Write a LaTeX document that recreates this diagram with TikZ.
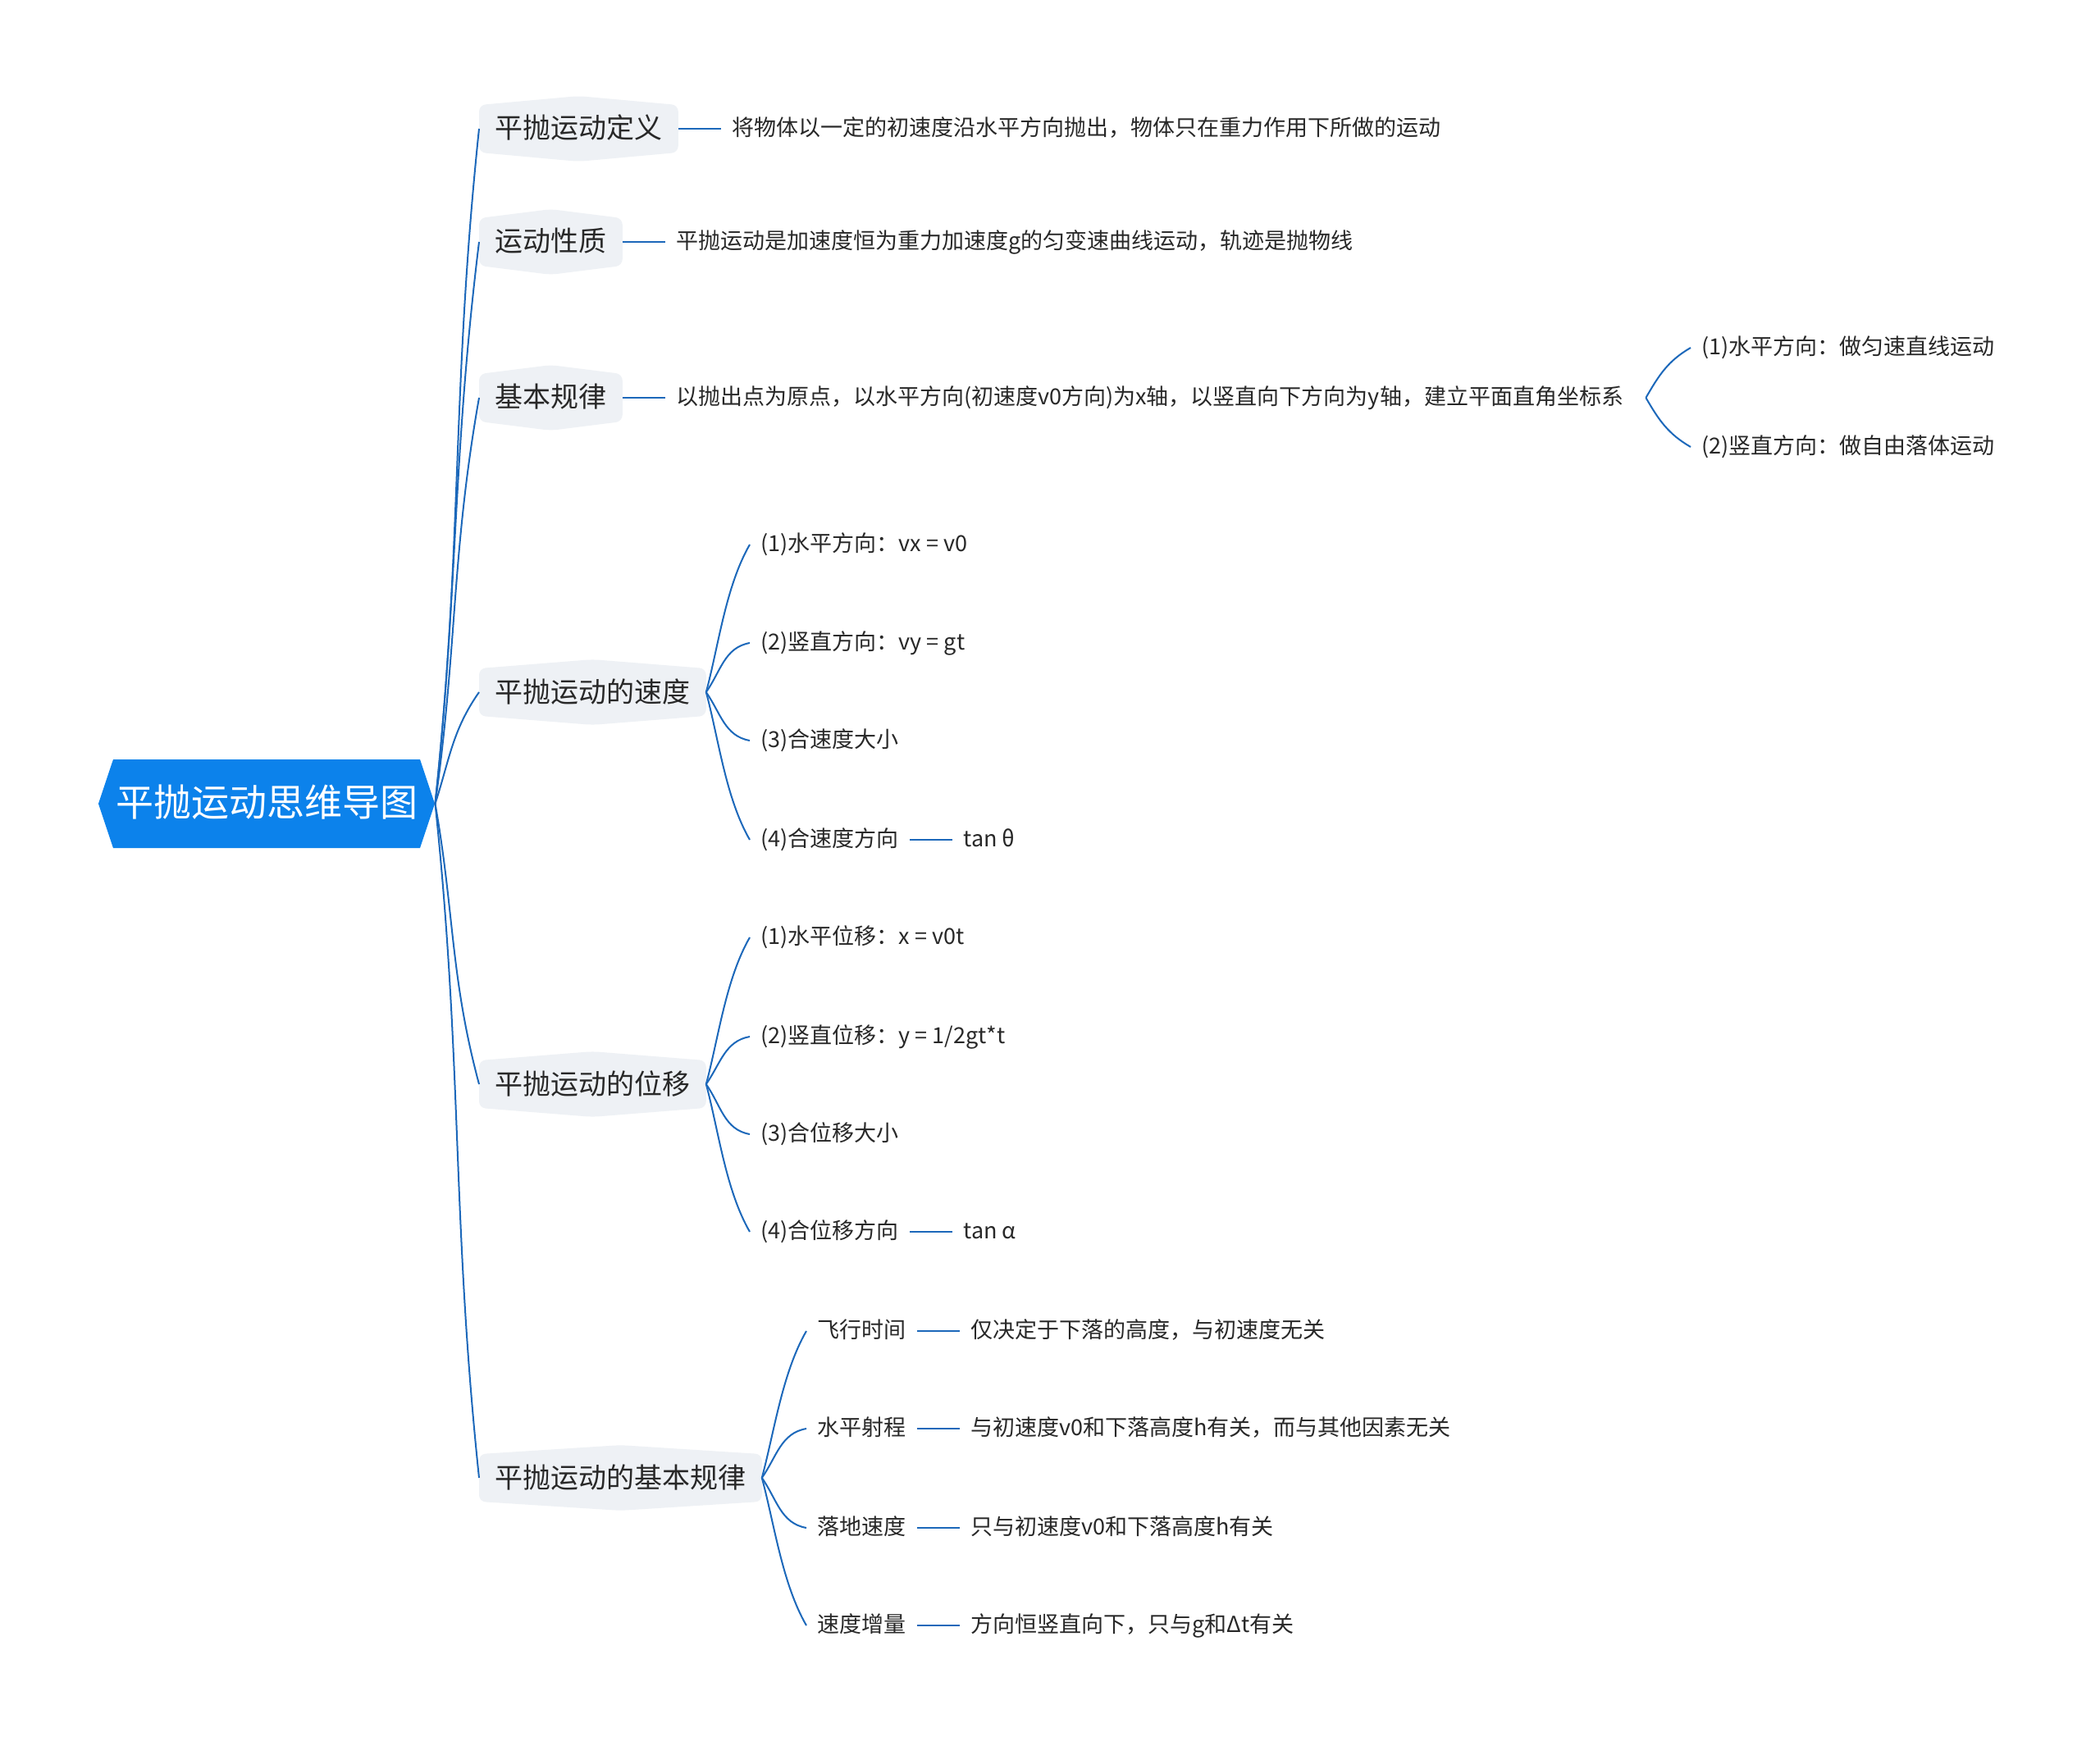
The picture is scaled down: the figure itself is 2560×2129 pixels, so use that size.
\documentclass[tikz,border=0pt]{standalone}
\usepackage{fontspec}
\setmainfont{Noto Sans CJK SC}
\usepackage{tikz}
\usetikzlibrary{positioning,shapes.symbols,backgrounds}
\definecolor{rootblue}{RGB}{12,130,235}
\definecolor{linkblue}{RGB}{28,104,186}
\definecolor{topicbg}{RGB}{238,241,245}
\definecolor{ink}{RGB}{40,40,40}

\begin{document}
\begin{tikzpicture}[
    x=0.5pt, y=0.5pt,
    rootnode/.style={signal, signal to=west and east, signal pointer angle=143,
      fill=rootblue, text=white, font=\fontsize{23pt}{27pt}\selectfont,
      inner xsep=1.5pt, inner ysep=15.5pt, text height=19pt, text depth=4pt},
    topic/.style={anchor=west, text=ink, font=\fontsize{17pt}{20pt}\selectfont,
      inner xsep=9.5pt, inner ysep=5.75pt, text height=14.5pt, text depth=2.5pt},
    leaf/.style={anchor=west, text=ink, font=\fontsize{13.5pt}{16pt}\selectfont,
      inner xsep=6.5pt, text height=11pt, text depth=2.5pt},
    link/.style={draw=linkblue, line width=1pt},
    node distance=26pt,
  ]
  \useasboundingbox (0,0) rectangle (2560,-2129);

  % Root
  \node[rootnode] (root) at (325,-980) {平抛运动思维导图};

  % Main topics
  \node[topic] (def)   at (584,-157)  {平抛运动定义};
  \node[topic] (prop)  at (584,-295)  {运动性质};
  \node[topic] (basic) at (584,-485)  {基本规律};
  \node[topic] (vel)   at (584,-844)  {平抛运动的速度};
  \node[topic] (disp)  at (584,-1322) {平抛运动的位移};
  \node[topic] (law)   at (584,-1802) {平抛运动的基本规律};

  % Topic backgrounds
  \begin{scope}[on background layer]
    \fill[white] (0,0) rectangle (2560,-2129);
    \foreach \n in {def,prop,basic,vel,disp,law}
      \fill[topicbg, rounded corners=4pt] (\n.north west) -- ([yshift=5.5pt]\n.north)
        -- (\n.north east) -- (\n.south east) -- ([yshift=-5.5pt]\n.south)
        -- (\n.south west) -- cycle;
  \end{scope}

  % Definition, nature, basic rule
  \node[leaf, right=of def] (deftxt) {将物体以一定的初速度沿水平方向抛出，物体只在重力作用下所做的运动};
  \node[leaf, right=of prop] (proptxt) {平抛运动是加速度恒为重力加速度g的匀变速曲线运动，轨迹是抛物线};
  \node[leaf, right=of basic] (basictxt) {以抛出点为原点，以水平方向(初速度v0方向)为x轴，以竖直向下方向为y轴，建立平面直角坐标系};
  \node[leaf] (basic1) at (2061,-424) {(1)水平方向：做匀速直线运动};
  \node[leaf] (basic2) at (2061,-545) {(2)竖直方向：做自由落体运动};

  % Velocity
  \node[leaf] (vel1) at (914,-664)  {(1)水平方向：vx = v0};
  \node[leaf] (vel2) at (914,-784)  {(2)竖直方向：vy = gt};
  \node[leaf] (vel3) at (914,-903)  {(3)合速度大小};
  \node[leaf] (vel4) at (914,-1024) {(4)合速度方向};
  \node[leaf, right=of vel4] (veltan) {tan θ};

  % Displacement
  \node[leaf] (disp1) at (914,-1143) {(1)水平位移：x = v0t};
  \node[leaf] (disp2) at (914,-1264) {(2)竖直位移：y = 1/2gt*t};
  \node[leaf] (disp3) at (914,-1383) {(3)合位移大小};
  \node[leaf] (disp4) at (914,-1502) {(4)合位移方向};
  \node[leaf, right=of disp4] (disptan) {tan α};

  % Basic laws
  \node[leaf] (law1) at (983,-1623) {飞行时间};
  \node[leaf] (law2) at (983,-1742) {水平射程};
  \node[leaf] (law3) at (983,-1863) {落地速度};
  \node[leaf] (law4) at (983,-1982) {速度增量};
  \node[leaf, right=of law1] (law1txt) {仅决定于下落的高度，与初速度无关};
  \node[leaf, right=of law2] (law2txt) {与初速度v0和下落高度h有关，而与其他因素无关};
  \node[leaf, right=of law3] (law3txt) {只与初速度v0和下落高度h有关};
  \node[leaf, right=of law4] (law4txt) {方向恒竖直向下，只与g和Δt有关};

  % Root to topics
  \draw[link] (root.east) to[out=84,in=-96] (def.west);
  \draw[link] (root.east) to[out=84,in=-97] (prop.west);
  \draw[link] (root.east) to[out=82,in=-100] (basic.west);
  \draw[link] (root.east) to[out=72,in=-125] (vel.west);
  \draw[link] (root.east) to[out=-80,in=105] (disp.west);
  \draw[link] (root.east) to[out=-84,in=96] (law.west);

  % Topics to texts
  \draw[link] (def.east) -- (deftxt.west);
  \draw[link] (prop.east) -- (proptxt.west);
  \draw[link] (basic.east) -- (basictxt.west);
  \draw[link] ([xshift=7pt]basictxt.east) to[out=60,in=210] (basic1.west);
  \draw[link] ([xshift=7pt]basictxt.east) to[out=-60,in=150] (basic2.west);

  % Fans
  \foreach \n in {vel,disp,law} {
    \draw[link] (\n.east) to[out=75,in=240,looseness=0.8] (\n1.west);
    \draw[link] (\n.east) to[out=55,in=190] (\n2.west);
    \draw[link] (\n.east) to[out=-55,in=170] (\n3.west);
    \draw[link] (\n.east) to[out=-75,in=120,looseness=0.8] (\n4.west);
  }
  \draw[link] (vel4.east) -- (veltan.west);
  \draw[link] (disp4.east) -- (disptan.west);
  \foreach \i in {1,...,4}
    \draw[link] (law\i.east) -- (law\i txt.west);
\end{tikzpicture}
\end{document}
